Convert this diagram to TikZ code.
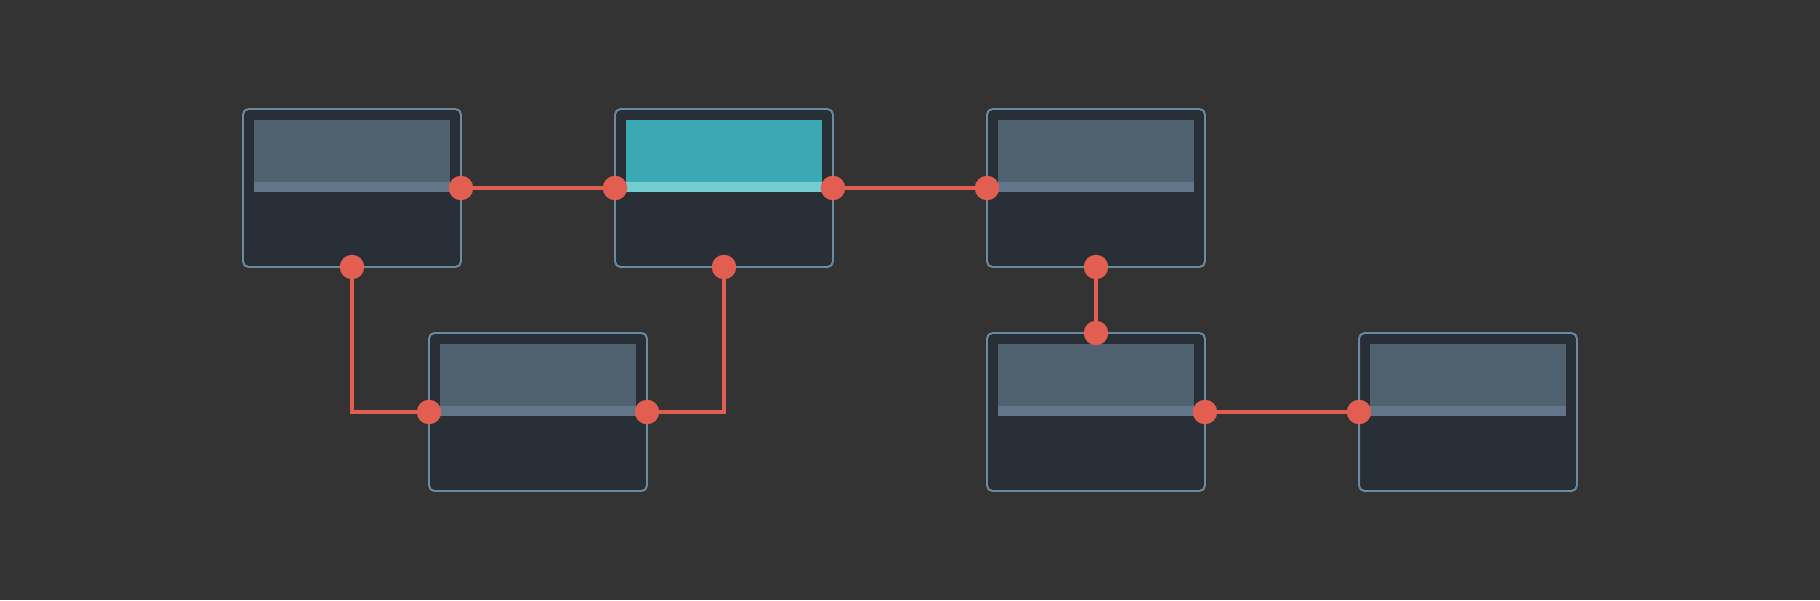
\documentclass[tikz,border=0pt]{standalone}
\usepackage{xcolor}
\usepackage{tikz}
\usetikzlibrary{positioning}
\definecolor{canvas}{RGB}{51, 51, 51}
\definecolor{cardfill}{RGB}{40, 47, 55}
\definecolor{cardedge}{RGB}{110, 138, 160}
\definecolor{slate}{RGB}{80, 97, 112}
\definecolor{slatebar}{RGB}{98, 118, 137}
\definecolor{aqua}{RGB}{59, 169, 180}
\definecolor{aquabar}{RGB}{116, 205, 209}
\definecolor{coral}{RGB}{225, 94, 80}

% header panel inside a card: body colour, bar colour
\newcommand{\cardpanel}[3]{%
  \fill[#2] ([shift={(11,11)}]#1.north west) rectangle ([shift={(-11,73)}]#1.north east);
  \fill[#3] ([shift={(11,73)}]#1.north west) rectangle ([shift={(-11,83)}]#1.north east);}

\begin{document}
\begin{tikzpicture}[x=0.02cm, y=-0.02cm,
    card/.style={draw=cardedge, fill=cardfill, line width=1.1pt, rounded corners=0.11cm,
                 minimum width=4.36cm, minimum height=3.16cm, inner sep=0pt, outer sep=0pt},
    port/.style={circle, fill=coral, minimum size=0.49cm, inner sep=0pt},
    wire/.style={draw=coral, line width=2.1pt}]
  % Canvas
  \fill[canvas] (0,0) rectangle (1820,600);

  % ---- Top row ----
  \node[card] (c1) at (352,188) {};
  \node[card] (c2) at (724,188) {};
  \node[card] (c3) at (1096,188) {};
  \cardpanel{c1}{slate}{slatebar}
  \cardpanel{c2}{aqua}{aquabar}
  \cardpanel{c3}{slate}{slatebar}

  % ---- Bottom row ----
  \node[card] (c4) at (538,412) {};
  \node[card] (c5) at (1096,412) {};
  \node[card] (c6) at (1468,412) {};
  \cardpanel{c4}{slate}{slatebar}
  \cardpanel{c5}{slate}{slatebar}
  \cardpanel{c6}{slate}{slatebar}

  % ---- Wires ----
  \draw[wire] (c1.east) -- (c2.west);
  \draw[wire] (c2.east) -- (c3.west);
  \draw[wire] (c1.south) |- (c4.west);
  \draw[wire] (c4.east) -| (c2.south);
  \draw[wire] (c3.south) -- (c5.north);
  \draw[wire] (c5.east) -- (c6.west);

  % ---- Ports ----
  \node[port] (c1e) at (c1.east) {};
  \node[port] (c1s) at (c1.south) {};
  \node[port] (c2w) at (c2.west) {};
  \node[port] (c2e) at (c2.east) {};
  \node[port] (c2s) at (c2.south) {};
  \node[port] (c3w) at (c3.west) {};
  \node[port] (c3s) at (c3.south) {};
  \node[port] (c4w) at (c4.west) {};
  \node[port] (c4e) at (c4.east) {};
  \node[port] (c5n) at (c5.north) {};
  \node[port] (c5e) at (c5.east) {};
  \node[port] (c6w) at (c6.west) {};
\end{tikzpicture}
\end{document}
